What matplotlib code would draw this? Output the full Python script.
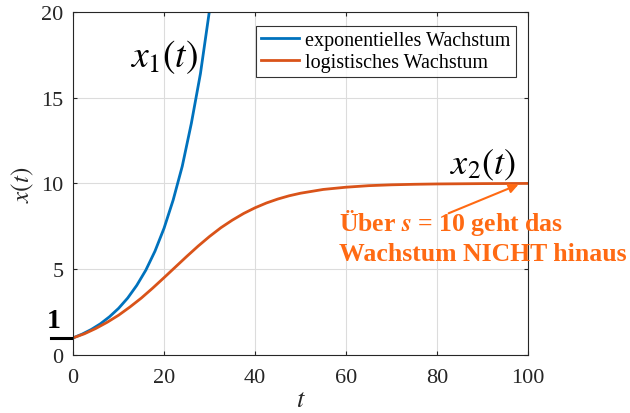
import matplotlib
matplotlib.use("Agg")
import matplotlib.pyplot as plt

# --- data ---
t_exp = [0, 2, 4, 6, 8, 10, 12, 14, 16, 18, 20, 22, 24, 26, 28, 30, 31]
x_exp = [1.0, 1.22, 1.49, 1.82, 2.23, 2.72, 3.32, 4.06, 4.95, 6.05, 7.39,
         9.03, 11.0, 13.5, 16.4, 20.1, 22.2]

t_log = [0, 2.5, 5, 7.5, 10, 12.5, 15, 17.5, 20, 22.5, 25, 27.5, 30, 32.5,
         35, 37.5, 40, 42.5, 45, 47.5, 50, 55, 60, 65, 70, 75, 80, 90, 100]
x_log = [1.0, 1.24, 1.55, 1.91, 2.32, 2.80, 3.32, 3.90, 4.51, 5.13, 5.75,
         6.35, 6.91, 7.42, 7.86, 8.25, 8.58, 8.86, 9.09, 9.28, 9.43, 9.65,
         9.78, 9.87, 9.92, 9.95, 9.97, 9.99, 10.0]

x_ticks = [0, 20, 40, 60, 80, 100]
y_ticks = [0, 5, 10, 15, 20]

BLUE = "#0072BD"
RED = "#D95319"
NOTE = "#FF6A13"
TICK = "#262626"

plt.rcParams["font.family"] = "Liberation Serif"
plt.rcParams["mathtext.fontset"] = "stix"

fig = plt.figure(figsize=(6.3, 4.14), dpi=100)
ax = fig.add_axes([0.116, 0.140, 0.722, 0.829])

ax.plot(t_exp, x_exp, color=BLUE, lw=2, label="exponentielles Wachstum")
ax.plot(t_log, x_log, color=RED, lw=2, label="logistisches Wachstum")

ax.set_xlim(0, 100)
ax.set_ylim(0, 20)
ax.set_xticks(x_ticks)
ax.set_yticks(y_ticks)
ax.tick_params(direction="in", length=3, labelsize=16, colors=TICK,
               top=True, right=True)
ax.tick_params(axis="x", pad=9)
ax.tick_params(axis="y", pad=7)
ax.grid(True, color="#dcdcdc", lw=0.8)
for s in ax.spines.values():
    s.set_color(TICK)
    s.set_linewidth(0.8)

ax.set_xlabel("$t$", fontsize=19, color=TICK, labelpad=2)
ax.set_ylabel("$x(t)$", fontsize=18, color=TICK, labelpad=4)

leg = ax.legend(loc="upper right", bbox_to_anchor=(0.973, 0.96), fontsize=14.5,
                frameon=True, fancybox=False, edgecolor="black",
                handlelength=1.9, handletextpad=0.3, borderpad=0.25,
                labelspacing=0.15, borderaxespad=0)
leg.get_frame().set_linewidth(0.8)

ax.text(20, 17.4, "$x_1(t)$", fontsize=27, ha="center", va="center")
ax.text(90, 11.1, "$x_2(t)$", fontsize=26, ha="center", va="center")

# marker for start value 1
ax.plot([-4.8, -0.2], [1, 1], color="black", lw=2.2, clip_on=False)
ax.text(-4.2, 1.3, "1", fontsize=20, fontweight="bold", ha="center",
        va="bottom", clip_on=False)

ax.annotate("", xy=(98.5, 10.0), xytext=(82, 8.2),
            arrowprops=dict(arrowstyle="-|>", color=NOTE, lw=1.5,
                            mutation_scale=14))
ax.text(58.5, 8.6, "Über $\\mathbfit{s}$ = 10 geht das\nWachstum NICHT hinaus",
        fontsize=18.5, fontweight="bold", color=NOTE, ha="left", va="top",
        linespacing=1.25, clip_on=False)

fig.savefig("out.png", dpi=100)
